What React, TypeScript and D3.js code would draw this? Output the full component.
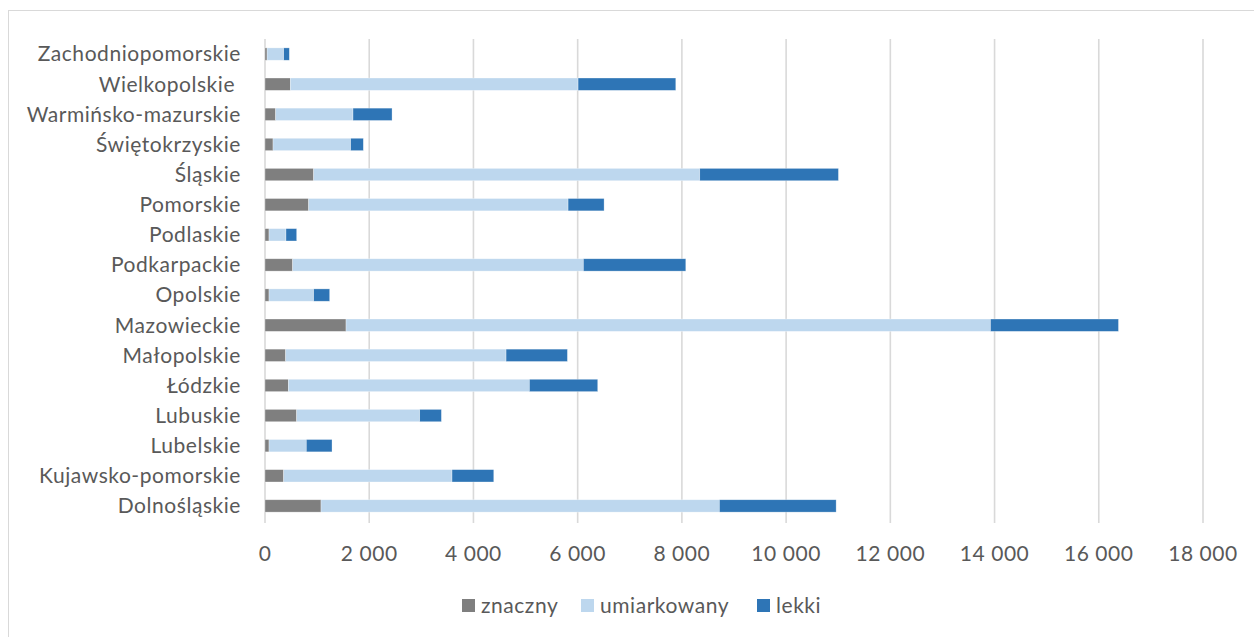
import { useMemo } from 'react';
import * as d3 from 'd3';

const categories = [
  'Dolnośląskie',
  'Kujawsko-pomorskie',
  'Lubelskie',
  'Lubuskie',
  'Łódzkie',
  'Małopolskie',
  'Mazowieckie',
  'Opolskie',
  'Podkarpackie',
  'Podlaskie',
  'Pomorskie',
  'Śląskie',
  'Świętokrzyskie',
  'Warmińsko-mazurskie',
  'Wielkopolskie ',
  'Zachodniopomorskie',
];

const znaczny = [1075, 358, 77, 608, 448, 397, 1555, 77, 531, 77, 838, 934, 154, 205, 486, 40];
const umiarkowany = [7645, 3231, 716, 2361, 4626, 4229, 12367, 857, 5579, 326, 4978, 7409, 1490, 1484, 5522, 319];
const lekki = [2240, 801, 493, 416, 1311, 1177, 2456, 307, 1965, 205, 691, 2661, 243, 749, 1875, 108];

const seriesNames = ['znaczny', 'umiarkowany', 'lekki'];
const seriesColors = ['#7f7f7f', '#bdd7ee', '#2e75b6'];
const xTicks = [0, 2000, 4000, 6000, 8000, 10000, 12000, 14000, 16000, 18000];

const W = 1254;
const H = 637;
const FONT = 'Lato, "Open Sans", sans-serif';
const LS = 0.55;

export default function App() {
  const margin = { left: 265, right: 51, top: 39, bottom: 116 };

  const rows = useMemo(
    () =>
      categories.map((c, i) => ({
        cat: c,
        znaczny: znaczny[i],
        umiarkowany: umiarkowany[i],
        lekki: lekki[i],
      })),
    []
  );

  const stacked = useMemo(() => d3.stack<any>().keys(seriesNames)(rows), [rows]);

  const x = d3
    .scaleLinear()
    .domain([0, 18000])
    .range([margin.left, W - margin.right]);

  // first category sits at the bottom, like Excel
  const y = d3
    .scaleBand<string>()
    .domain([...categories].reverse())
    .range([margin.top, H - margin.bottom])
    .paddingInner(0.59)
    .paddingOuter(0.295);

  const fmt = d3.formatLocale({ decimal: ',', thousands: ' ', grouping: [3], currency: ['', ''] }).format(',d');

  const legendX = [462, 581, 757];

  return (
    <div style={{ position: 'absolute', left: 0, top: 0 }}>
      <svg width={W} height={H} style={{ display: 'block', background: '#fff' }}>
        <rect x={8.5} y={10.5} width={W + 20} height={H + 20} fill="#fff" stroke="#d9d9d9" strokeWidth={1} />

        {/* gridlines */}
        <g>
          {xTicks.map((t) => (
            <line
              key={t}
              x1={x(t)}
              x2={x(t)}
              y1={margin.top}
              y2={H - margin.bottom + 2}
              stroke="#d9d9d9"
              strokeWidth={1.6}
            />
          ))}
        </g>

        {/* bars */}
        <g>
          {stacked.map((s, si) => (
            <g key={s.key} fill={seriesColors[si]}>
              {s.map((d: any) => (
                <rect
                  key={d.data.cat}
                  x={x(d[0])}
                  y={y(d.data.cat)!}
                  width={x(d[1]) - x(d[0])}
                  height={y.bandwidth()}
                  stroke="#fff"
                  strokeOpacity={0.5}
                  strokeWidth={0.6}
                />
              ))}
            </g>
          ))}
        </g>

        {/* category labels */}
        <g fontFamily={FONT} fontSize={21} fill="#595959" textAnchor="end" letterSpacing={LS}>
          {categories.map((c) => (
            <text
              key={c}
              x={margin.left - 24}
              y={y(c)! + y.bandwidth() / 2}
              dy="0.35em"
              style={{ whiteSpace: 'pre' }}
            >
              {c}
            </text>
          ))}
        </g>

        {/* x tick labels */}
        <g fontFamily={FONT} fontSize={21} fill="#595959" textAnchor="middle" letterSpacing={LS}>
          {xTicks.map((t) => (
            <text key={t} x={x(t)} y={H - margin.bottom + 40}>
              {fmt(t)}
            </text>
          ))}
        </g>

        {/* legend */}
        <g fontFamily={FONT} fontSize={21} fill="#595959" letterSpacing={LS}>
          {seriesNames.map((n, i) => (
            <g key={n} transform={`translate(${legendX[i]},599)`}>
              <rect width={13} height={13} fill={seriesColors[i]} />
              <text x={19} y={6.5} dy="0.35em">
                {n}
              </text>
            </g>
          ))}
        </g>
      </svg>
    </div>
  );
}
